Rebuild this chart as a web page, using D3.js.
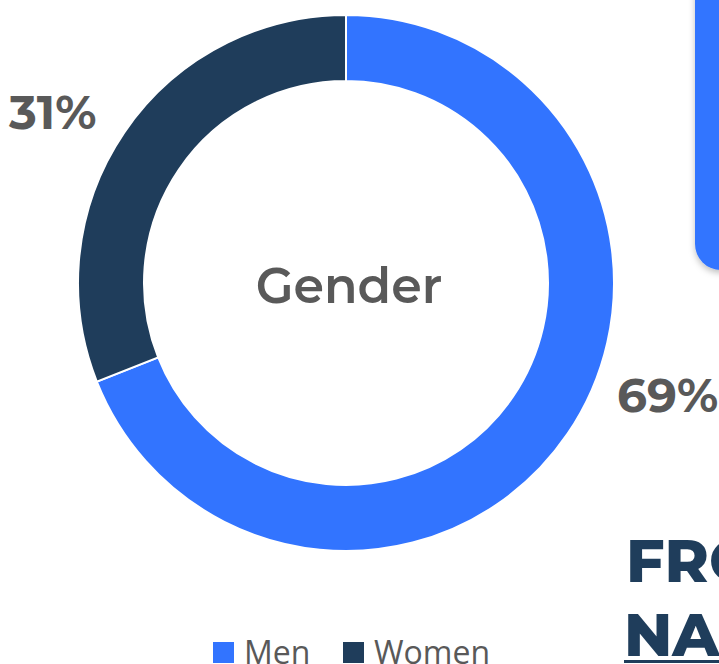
<!DOCTYPE html>
<html><head><meta charset="utf-8">
<script src="https://cdn.jsdelivr.net/npm/d3@7"></script>
<style>html,body{margin:0;padding:0;background:#fff;overflow:hidden}</style>
</head><body>
<script>
const categories = ["Men", "Women"];
const values = [69, 31];
const labels = ["69%", "31%"];
const colors = ["#3274FF", "#1F3D5B"];

const W = 719, H = 664;
const svg = d3.select("body").append("svg").attr("width", W).attr("height", H);

const defs = svg.append("defs");
const f = defs.append("filter").attr("id","sh").attr("x","-20%").attr("y","-20%").attr("width","140%").attr("height","140%");
f.append("feDropShadow").attr("dx",0).attr("dy",3).attr("stdDeviation",3).attr("flood-color","#000").attr("flood-opacity",0.25);

// decorative blue card
svg.append("rect").attr("x",695).attr("y",-40).attr("width",80).attr("height",310)
  .attr("rx",26).attr("fill","#3274FF").attr("filter","url(#sh)");

const cx = 346, cy = 283, R = 268, r = 202;
const g = svg.append("g").attr("transform",`translate(${cx},${cy})`);
const pie = d3.pie().sort(null).value(d => d)(values);
const arc = d3.arc().innerRadius(r).outerRadius(R);
g.selectAll("path").data(pie).join("path")
  .attr("d", arc).attr("fill",(d,i)=>colors[i])
  .attr("stroke","#fff").attr("stroke-width",2);

const font = "Montserrat, Inter, 'Open Sans', sans-serif";
g.append("text").attr("x",3).attr("y",20).attr("text-anchor","middle")
  .attr("font-family",font).attr("font-weight",600).attr("font-size",49)
  .attr("fill","#595959").text("Gender");

svg.append("text").attr("x",617).attr("y",412).attr("font-family",font)
  .attr("font-weight",700).attr("font-size",47).attr("fill","#595959").text(labels[0]);
svg.append("text").attr("x",9).attr("y",129).attr("font-family",font)
  .attr("font-weight",700).attr("font-size",47).attr("fill","#595959").text(labels[1]);

// title fragment
svg.append("text").attr("x",626).attr("y",582).attr("font-family",font)
  .attr("font-weight",800).attr("font-size",60).attr("fill","#1F3D5B").text("FROM");
svg.append("text").attr("x",624).attr("y",656).attr("font-family",font)
  .attr("font-weight",800).attr("font-size",60).attr("fill","#1F3D5B").text("NA");
svg.append("rect").attr("x",624).attr("y",660).attr("width",120).attr("height",3).attr("fill","#1F3D5B");

// legend
const legX = [213, 343];
const lg = svg.append("g");
categories.forEach((c,i)=>{
  lg.append("rect").attr("x",legX[i]).attr("y",642).attr("width",21).attr("height",21).attr("fill",colors[i]);
  lg.append("text").attr("x",legX[i]+31).attr("y",664).attr("font-family","'Open Sans', sans-serif")
    .attr("font-size",32).attr("fill","#595959").text(c);
});
</script>
</body></html>
